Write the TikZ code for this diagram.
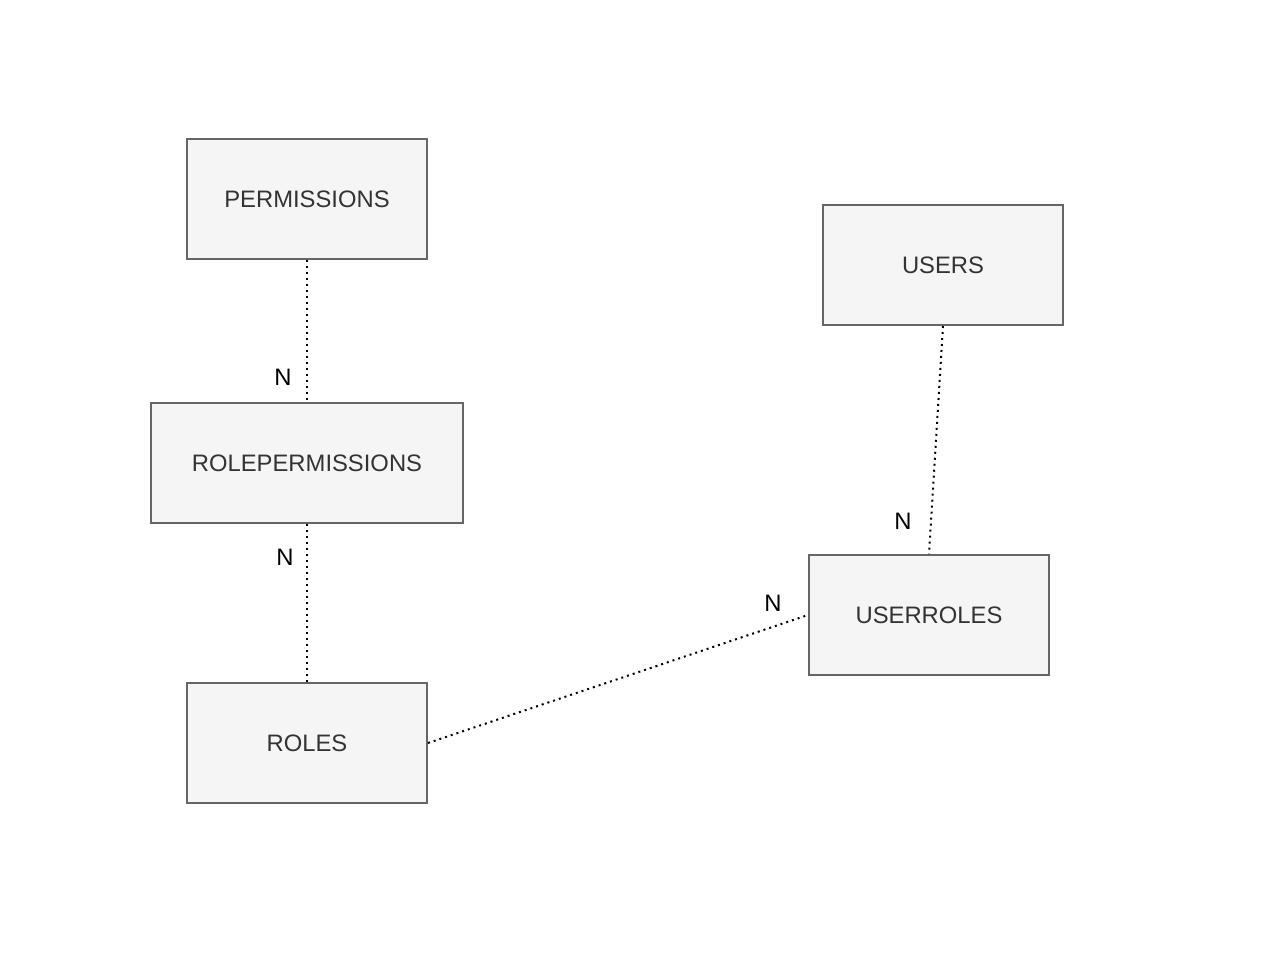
\documentclass[tikz,border=0pt]{standalone}
\usepackage{fontspec}
\setmainfont{Liberation Sans}
\definecolor{boxfill}{HTML}{F5F5F5}
\definecolor{boxline}{HTML}{666666}
\definecolor{boxtext}{HTML}{333333}
\begin{document}
\begin{tikzpicture}[x=1pt,y=-1pt,
  entity/.style={draw=boxline,fill=boxfill,line width=2pt,minimum height=120pt,
    text=boxtext,font=\fontsize{23.8}{28}\selectfont,inner sep=0pt,anchor=center},
  rel/.style={line width=2pt,dash pattern=on 2pt off 4pt,black},
  card/.style={font=\fontsize{23.8}{28}\selectfont,text=black,inner sep=0pt}]
\useasboundingbox (0,0) rectangle (1286,968);
\fill[white] (0,0) rectangle (1286,968);
\node[entity,minimum width=240pt] (perm) at (307,199) {PERMISSIONS};
\node[entity,minimum width=312pt] (roleperm) at (307,463) {ROLEPERMISSIONS};
\node[entity,minimum width=240pt] (roles) at (307,743) {ROLES};
\node[entity,minimum width=240pt] (users) at (943,265) {USERS};
\node[entity,minimum width=240pt] (userroles) at (929,615) {USERROLES};
\draw[rel] (perm.south) -- (roleperm.north);
\draw[rel] (roleperm.south) -- (roles.north);
\draw[rel] (roles.east) -- (userroles.west);
\draw[rel] (users.south) -- (userroles.north);
\node[card] (n1) at (283,377) {N};
\node[card] (n2) at (285,557) {N};
\node[card] (n3) at (773,603) {N};
\node[card] (n4) at (903,521) {N};
\end{tikzpicture}
\end{document}
